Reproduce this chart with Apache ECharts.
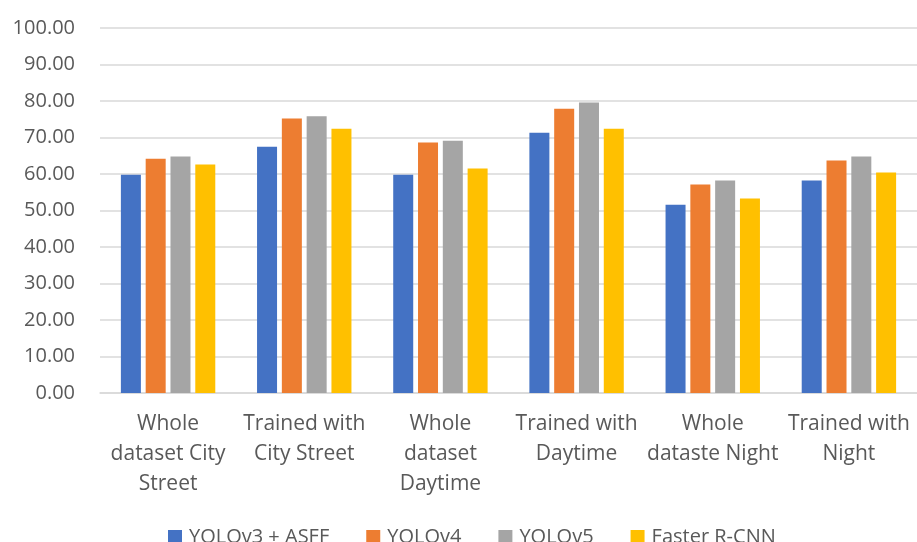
<!DOCTYPE html>
<html>
<head>
<meta charset="utf-8">
<script src="https://cdn.jsdelivr.net/npm/echarts@6/dist/echarts.min.js"></script>
<style>
  html, body { margin: 0; padding: 0; background: #ffffff; }
  #chart { width: 917px; height: 542px; }
</style>
</head>
<body>
<div id="chart"></div>
<script>
// Scenario groups along the x axis
const categories = [
  'Whole\ndataset City\nStreet',
  'Trained with\nCity Street',
  'Whole\ndataset\nDaytime',
  'Trained with\nDaytime',
  'Whole\ndataste Night',
  'Trained with\nNight'
];

// Detector scores per scenario
const yolov3Asff  = [59.8, 67.5, 59.8, 71.3, 51.6, 58.2];
const yolov4      = [64.2, 75.2, 68.6, 77.9, 57.1, 63.7];
const yolov5      = [64.8, 75.8, 69.1, 79.6, 58.2, 64.8];
const fasterRcnn  = [62.6, 72.4, 61.5, 72.4, 53.3, 60.4];

const seriesNames = ['YOLOv3 + ASFF', 'YOLOv4', 'YOLOv5', 'Faster R-CNN'];
const seriesData  = [yolov3Asff, yolov4, yolov5, fasterRcnn];
const colors      = ['#4472C4', '#ED7D31', '#A5A5A5', '#FFC000'];

const font = "'Open Sans', 'Liberation Sans', sans-serif";
const textColor = '#595959';

const chart = echarts.init(document.getElementById('chart'), null, { renderer: 'canvas' });

chart.setOption({
  animation: false,
  color: colors,
  textStyle: { fontFamily: font },
  grid: { left: 100, right: 0, top: 28, bottom: 149, containLabel: false },
  legend: {
    left: 168,
    top: 527,
    padding: 0,
    itemWidth: 14,
    itemHeight: 14,
    itemGap: 37,
    icon: 'rect',
    textStyle: { fontFamily: font, fontSize: 20, color: textColor, padding: [0, 0, 0, 2] },
    data: seriesNames
  },
  xAxis: {
    type: 'category',
    data: categories,
    axisTick: { show: false },
    axisLine: { lineStyle: { color: '#d9d9d9', width: 1.5 } },
    axisLabel: {
      interval: 0,
      fontFamily: font,
      fontSize: 21,
      lineHeight: 30,
      color: textColor,
      margin: 16,
      align: 'center'
    }
  },
  yAxis: {
    type: 'value',
    min: 0,
    max: 100,
    interval: 10,
    axisLine: { show: false },
    axisTick: { show: false },
    splitLine: { lineStyle: { color: '#d9d9d9', width: 1.5 } },
    axisLabel: {
      fontFamily: font,
      fontSize: 20,
      color: textColor,
      margin: 25,
      formatter: v => v.toFixed(2)
    }
  },
  series: seriesNames.map((name, i) => ({
    name: name,
    type: 'bar',
    data: seriesData[i],
    barWidth: 20,
    barGap: '24%',
    itemStyle: { color: colors[i] }
  }))
});
</script>
</body>
</html>
